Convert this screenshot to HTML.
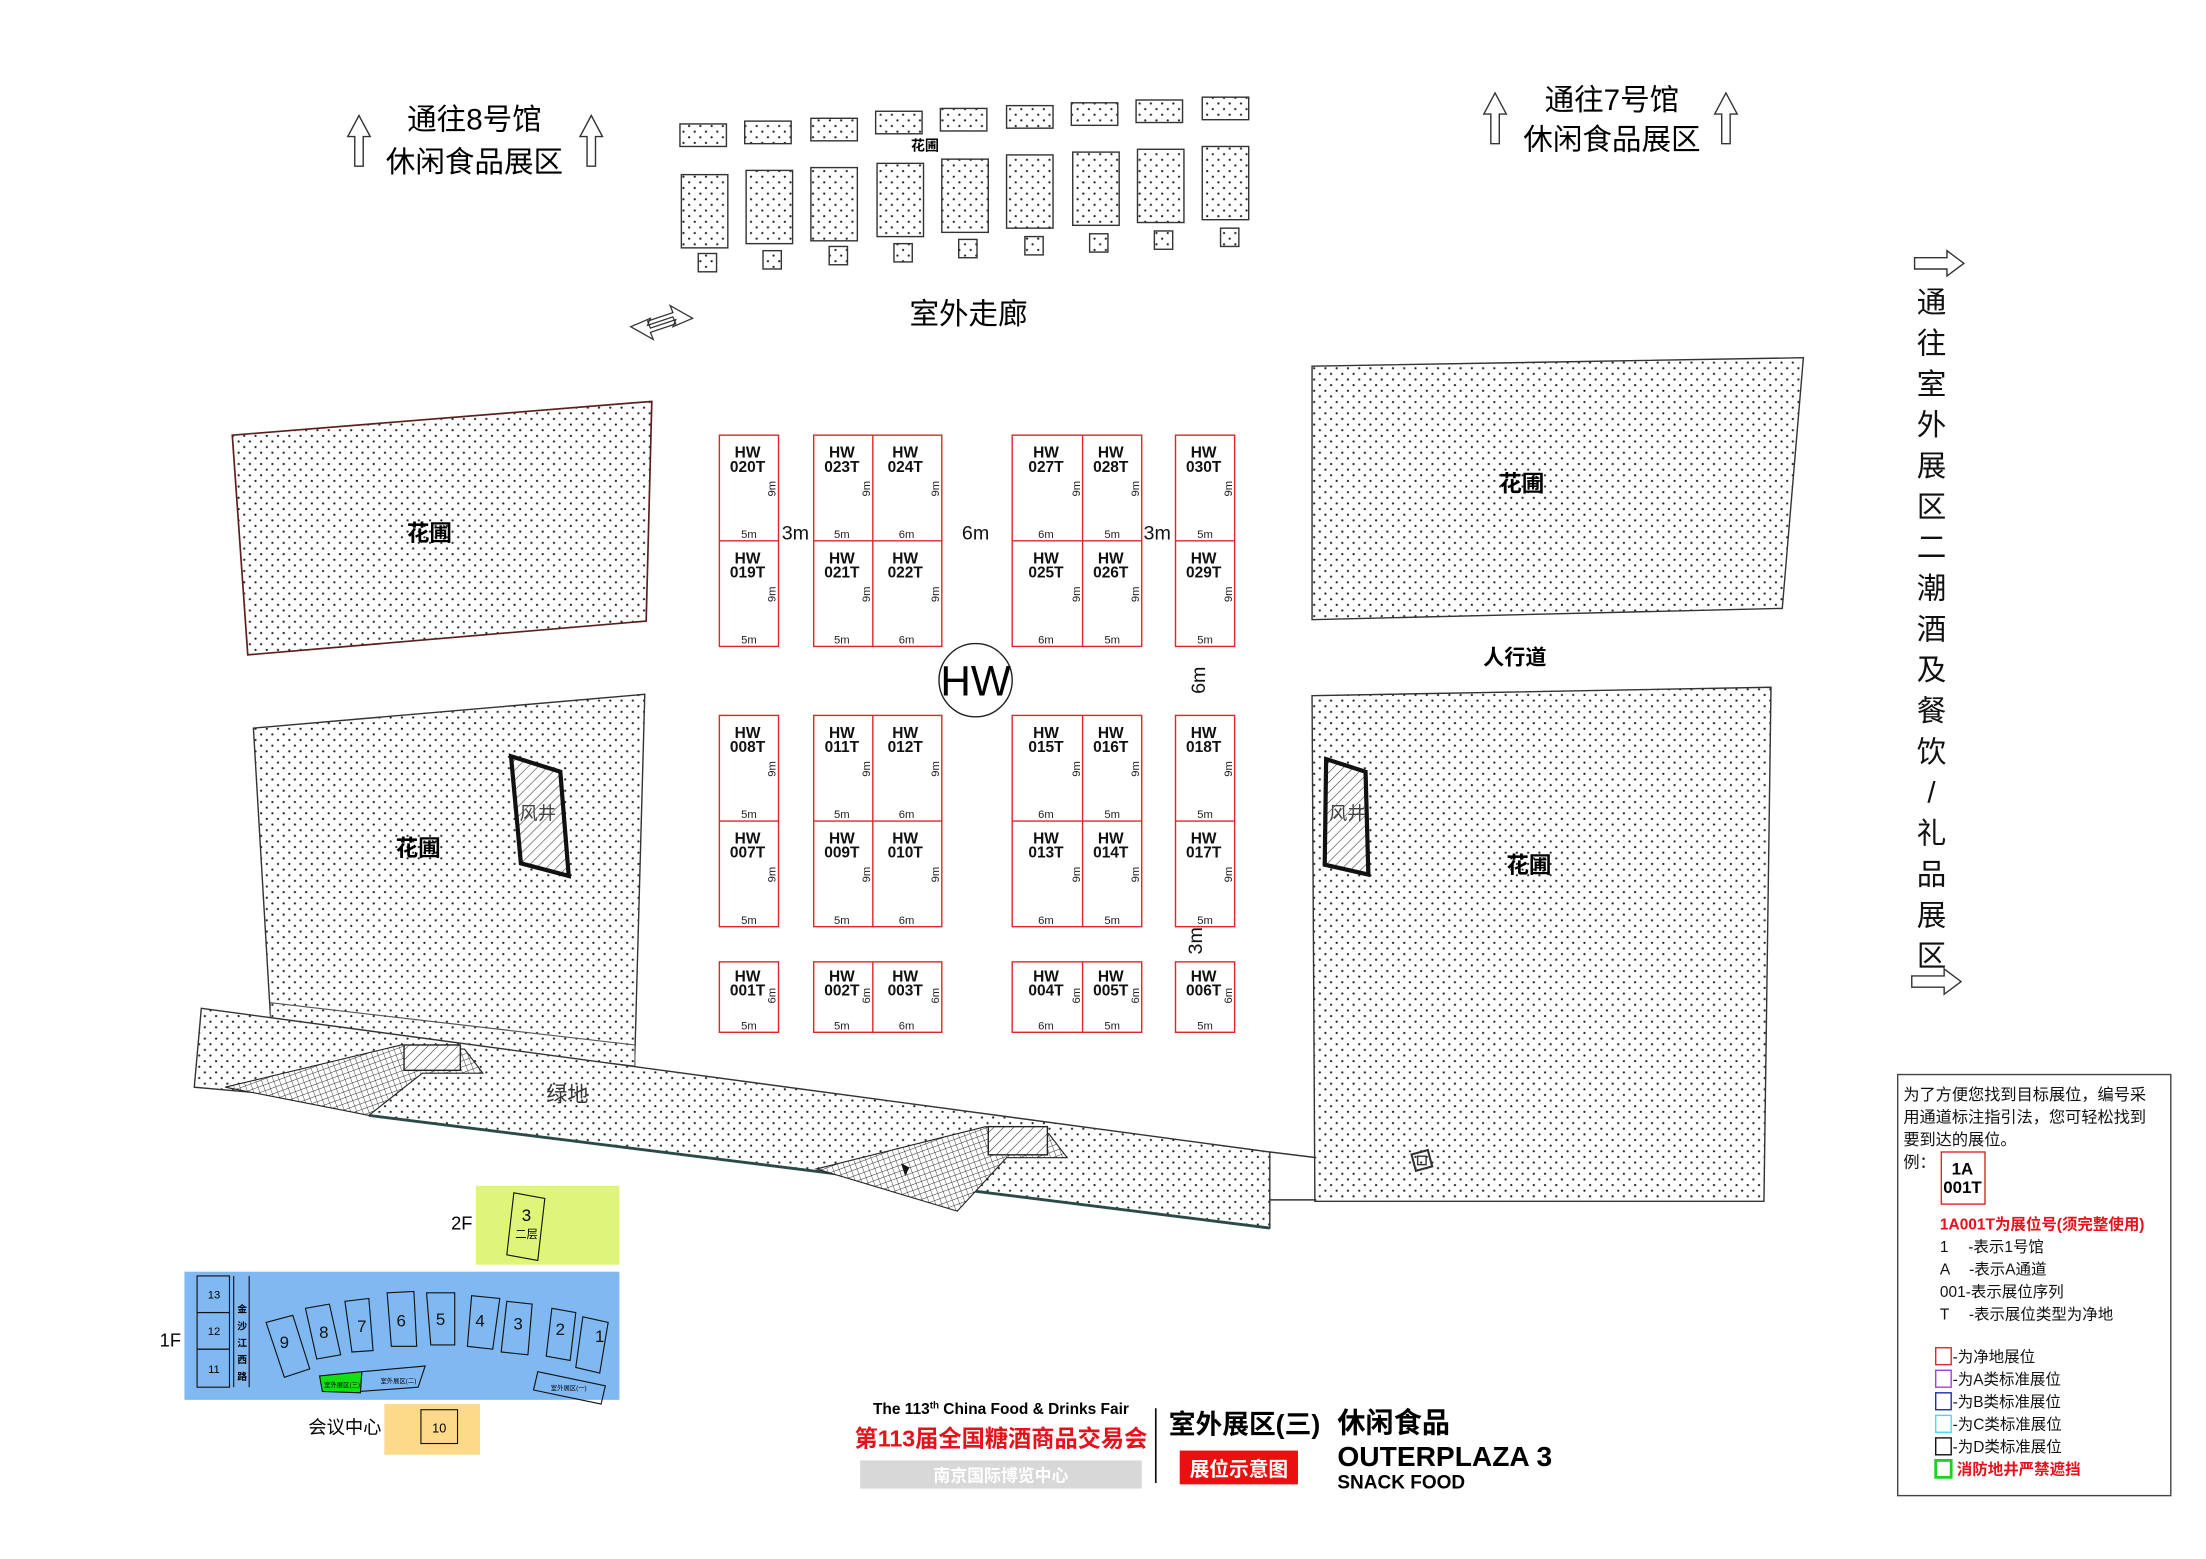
<!DOCTYPE html>
<html><head><meta charset="utf-8"><style>
html,body{margin:0;padding:0;background:#fff;}
svg{display:block;}
text{font-family:"Liberation Sans","Noto Sans CJK SC",sans-serif;}
.b{font-weight:bold;}
</style></head><body>
<svg width="2206" height="1559" viewBox="0 0 1567 1107" preserveAspectRatio="none" xmlns="http://www.w3.org/2000/svg">
<defs>
<pattern id="dots" width="8" height="8" patternUnits="userSpaceOnUse">
<rect width="8" height="8" fill="#fff"/>
<circle cx="1.5" cy="1.5" r="0.8" fill="#222"/>
<circle cx="5.5" cy="5.5" r="0.8" fill="#222"/>
</pattern>
<pattern id="hatch" width="5" height="5" patternUnits="userSpaceOnUse" patternTransform="rotate(45)">
<rect width="5" height="5" fill="#fff"/><line x1="0" y1="0" x2="0" y2="5" stroke="#333" stroke-width="0.8"/>
</pattern>
<pattern id="grid" width="4" height="4" patternUnits="userSpaceOnUse" patternTransform="rotate(-20)">
<rect width="4" height="4" fill="#fff"/><path d="M0 0H4M0 0V4" stroke="#222" stroke-width="0.6"/>
</pattern>
</defs>

<!-- top texts -->
<text x="337" y="92" font-size="21" text-anchor="middle">通往8号馆</text>
<text x="337" y="122" font-size="21" text-anchor="middle">休闲食品展区</text>
<path d="M255 82 L247 97 L252 97 L252 118 L258 118 L258 97 L263 97 Z" fill="none" stroke="#333" stroke-width="1"/>
<path d="M420 82 L412 97 L417 97 L417 118 L423 118 L423 97 L428 97 Z" fill="none" stroke="#333" stroke-width="1"/>
<text x="1145" y="78" font-size="21" text-anchor="middle">通往7号馆</text>
<text x="1145" y="106" font-size="21" text-anchor="middle">休闲食品展区</text>
<path d="M1062 66 L1054 81 L1059 81 L1059 102 L1065 102 L1065 81 L1070 81 Z" fill="none" stroke="#333" stroke-width="1"/>
<path d="M1226 66 L1218 81 L1223 81 L1223 102 L1229 102 L1229 81 L1234 81 Z" fill="none" stroke="#333" stroke-width="1"/>
<text x="688" y="230" font-size="21" text-anchor="middle">室外走廊</text>
<path d="M448 232 L462 226 L460 231 L478 225 L480 230 L462 236 L464 241 Z M492 226 L478 232 L480 227 L462 233 L460 228 L478 222 L476 217 Z" fill="none" stroke="#333" stroke-width="0.9"/>
<text x="657" y="107" font-size="10" class="b" text-anchor="middle">花圃</text>

<!-- flower beds top -->
<g stroke="#333" stroke-width="1" fill="url(#dots)">
<rect x="483" y="88" width="33" height="16"/><rect x="529" y="86" width="33" height="16"/><rect x="576" y="84" width="33" height="16"/><rect x="622" y="79" width="33" height="16"/><rect x="668" y="77" width="33" height="16"/><rect x="715" y="75" width="33" height="16"/><rect x="761" y="73" width="33" height="16"/><rect x="807" y="71" width="33" height="16"/><rect x="854" y="69" width="33" height="16"/>
<rect x="484" y="124" width="33" height="52"/><rect x="530" y="121" width="33" height="52"/><rect x="576" y="119" width="33" height="52"/><rect x="623" y="116" width="33" height="52"/><rect x="669" y="113" width="33" height="52"/><rect x="715" y="110" width="33" height="52"/><rect x="762" y="108" width="33" height="52"/><rect x="808" y="106" width="33" height="52"/><rect x="854" y="104" width="33" height="52"/>
<rect x="496" y="180" width="13" height="13"/><rect x="542" y="178" width="13" height="13"/><rect x="589" y="175" width="13" height="13"/><rect x="635" y="173" width="13" height="13"/><rect x="681" y="170" width="13" height="13"/><rect x="728" y="168" width="13" height="13"/><rect x="774" y="166" width="13" height="13"/><rect x="820" y="164" width="13" height="13"/><rect x="867" y="162" width="13" height="13"/>
</g>

<!-- gardens -->
<polygon points="165,309 463,285 459,441 176,465" fill="url(#dots)" stroke="#5a2020" stroke-width="1.2"/>
<polygon points="180,517 458,493 451,748 192,720" fill="url(#dots)" stroke="#333" stroke-width="1"/>
<polygon points="932,260 1281,254 1266,432 932,440" fill="url(#dots)" stroke="#333" stroke-width="1"/>
<polygon points="932,494 1258,488 1253,853 934,853" fill="url(#dots)" stroke="#333" stroke-width="1"/>
<text x="305" y="384" font-size="16" class="b" text-anchor="middle">花圃</text>
<text x="297" y="608" font-size="16" class="b" text-anchor="middle">花圃</text>
<text x="1081" y="349" font-size="16" class="b" text-anchor="middle">花圃</text>
<text x="1086" y="620" font-size="16" class="b" text-anchor="middle">花圃</text>
<text x="1076" y="472" font-size="15" class="b" text-anchor="middle">人行道</text>
<!-- wind shafts -->
<polygon points="363,537 398,548 404,622 370,613" fill="url(#hatch)" stroke="#111" stroke-width="3"/>
<text x="382" y="582" font-size="13" text-anchor="middle" fill="#444">风井</text>
<polygon points="942,539 970,548 972,621 941,614" fill="url(#hatch)" stroke="#111" stroke-width="3"/>
<text x="957" y="582" font-size="13" text-anchor="middle" fill="#444">风井</text>

<!-- green strip -->
<polygon points="192,712 451,742 451,757 192,727" fill="url(#dots)" stroke="#555" stroke-width="0.8"/>
<polygon points="143,716 902,818 902,872 262,792 252,782 138,772" fill="url(#dots)" stroke="#333" stroke-width="1"/>
<path d="M262,792 L902,872" stroke="#2a4a4a" stroke-width="2" fill="none"/>
<polygon points="160,772 285,742 330,745 343,762 300,762 262,792 252,790" fill="url(#grid)" stroke="#222" stroke-width="0.8"/>
<rect x="287" y="742" width="40" height="18" fill="url(#hatch)" stroke="#222" stroke-width="1"/>
<polygon points="580,830 700,800 745,805 758,822 715,822 680,860" fill="url(#grid)" stroke="#222" stroke-width="0.8"/>
<rect x="702" y="800" width="42" height="20" fill="url(#hatch)" stroke="#222" stroke-width="1"/>
<path d="M640 826 l6 3 -3 6 z" fill="#111"/>
<path d="M902 818 L935 822 M902 852 L935 852" stroke="#333" stroke-width="1"/>
<rect x="1004" y="818" width="12" height="12" fill="none" stroke="#333" stroke-width="1.5" transform="rotate(-15 1010 824)"/>
<rect x="1007" y="821" width="6" height="6" fill="none" stroke="#333" stroke-width="1"/>
<text x="403" y="782" font-size="15" text-anchor="middle" fill="#333">绿地</text>

<!-- booths -->
<g fill="none" stroke="#e0262a" stroke-width="1">
<rect x="511" y="309" width="42" height="150"/><line x1="511" y1="384" x2="553" y2="384"/>
<rect x="578" y="309" width="91" height="150"/><line x1="578" y1="384" x2="669" y2="384"/><line x1="620" y1="309" x2="620" y2="459"/>
<rect x="719" y="309" width="92" height="150"/><line x1="719" y1="384" x2="811" y2="384"/><line x1="769" y1="309" x2="769" y2="459"/>
<rect x="835" y="309" width="42" height="150"/><line x1="835" y1="384" x2="877" y2="384"/>
<rect x="511" y="508" width="42" height="150"/><line x1="511" y1="583" x2="553" y2="583"/>
<rect x="578" y="508" width="91" height="150"/><line x1="578" y1="583" x2="669" y2="583"/><line x1="620" y1="508" x2="620" y2="658"/>
<rect x="719" y="508" width="92" height="150"/><line x1="719" y1="583" x2="811" y2="583"/><line x1="769" y1="508" x2="769" y2="658"/>
<rect x="835" y="508" width="42" height="150"/><line x1="835" y1="583" x2="877" y2="583"/>
<rect x="511" y="683" width="42" height="50"/>
<rect x="578" y="683" width="91" height="50"/><line x1="620" y1="683" x2="620" y2="733"/>
<rect x="719" y="683" width="92" height="50"/><line x1="769" y1="683" x2="769" y2="733"/>
<rect x="835" y="683" width="42" height="50"/>
</g>
<g font-size="11" class="b" text-anchor="middle" font-family="Liberation Sans Narrow,Liberation Sans,sans-serif" fill="#111">
<text x="531" y="325">HW</text><text x="531" y="335">020T</text>
<text x="531" y="400">HW</text><text x="531" y="410">019T</text>
<text x="598" y="325">HW</text><text x="598" y="335">023T</text>
<text x="598" y="400">HW</text><text x="598" y="410">021T</text>
<text x="643" y="325">HW</text><text x="643" y="335">024T</text>
<text x="643" y="400">HW</text><text x="643" y="410">022T</text>
<text x="743" y="325">HW</text><text x="743" y="335">027T</text>
<text x="743" y="400">HW</text><text x="743" y="410">025T</text>
<text x="789" y="325">HW</text><text x="789" y="335">028T</text>
<text x="789" y="400">HW</text><text x="789" y="410">026T</text>
<text x="855" y="325">HW</text><text x="855" y="335">030T</text>
<text x="855" y="400">HW</text><text x="855" y="410">029T</text>
<text x="531" y="524">HW</text><text x="531" y="534">008T</text>
<text x="531" y="599">HW</text><text x="531" y="609">007T</text>
<text x="598" y="524">HW</text><text x="598" y="534">011T</text>
<text x="598" y="599">HW</text><text x="598" y="609">009T</text>
<text x="643" y="524">HW</text><text x="643" y="534">012T</text>
<text x="643" y="599">HW</text><text x="643" y="609">010T</text>
<text x="743" y="524">HW</text><text x="743" y="534">015T</text>
<text x="743" y="599">HW</text><text x="743" y="609">013T</text>
<text x="789" y="524">HW</text><text x="789" y="534">016T</text>
<text x="789" y="599">HW</text><text x="789" y="609">014T</text>
<text x="855" y="524">HW</text><text x="855" y="534">018T</text>
<text x="855" y="599">HW</text><text x="855" y="609">017T</text>
<text x="531" y="697">HW</text><text x="531" y="707">001T</text>
<text x="598" y="697">HW</text><text x="598" y="707">002T</text>
<text x="643" y="697">HW</text><text x="643" y="707">003T</text>
<text x="743" y="697">HW</text><text x="743" y="707">004T</text>
<text x="789" y="697">HW</text><text x="789" y="707">005T</text>
<text x="855" y="697">HW</text><text x="855" y="707">006T</text>
</g>
<g font-size="8" text-anchor="middle" fill="#222">
<text x="532" y="382">5m</text><text x="532" y="457">5m</text><text x="598" y="382">5m</text><text x="598" y="457">5m</text>
<text x="644" y="382">6m</text><text x="644" y="457">6m</text><text x="743" y="382">6m</text><text x="743" y="457">6m</text>
<text x="790" y="382">5m</text><text x="790" y="457">5m</text><text x="856" y="382">5m</text><text x="856" y="457">5m</text>
<text x="532" y="581">5m</text><text x="532" y="656">5m</text><text x="598" y="581">5m</text><text x="598" y="656">5m</text>
<text x="644" y="581">6m</text><text x="644" y="656">6m</text><text x="743" y="581">6m</text><text x="743" y="656">6m</text>
<text x="790" y="581">5m</text><text x="790" y="656">5m</text><text x="856" y="581">5m</text><text x="856" y="656">5m</text>
<text x="532" y="731">5m</text><text x="598" y="731">5m</text><text x="644" y="731">6m</text><text x="743" y="731">6m</text><text x="790" y="731">5m</text><text x="856" y="731">5m</text>
</g>
<g font-size="8" text-anchor="middle" fill="#222">
<text transform="translate(551,347) rotate(-90)">9m</text><text transform="translate(551,422) rotate(-90)">9m</text>
<text transform="translate(618,347) rotate(-90)">9m</text><text transform="translate(618,422) rotate(-90)">9m</text>
<text transform="translate(667,347) rotate(-90)">9m</text><text transform="translate(667,422) rotate(-90)">9m</text>
<text transform="translate(767,347) rotate(-90)">9m</text><text transform="translate(767,422) rotate(-90)">9m</text>
<text transform="translate(809,347) rotate(-90)">9m</text><text transform="translate(809,422) rotate(-90)">9m</text>
<text transform="translate(875,347) rotate(-90)">9m</text><text transform="translate(875,422) rotate(-90)">9m</text>
<text transform="translate(551,546) rotate(-90)">9m</text><text transform="translate(551,621) rotate(-90)">9m</text>
<text transform="translate(618,546) rotate(-90)">9m</text><text transform="translate(618,621) rotate(-90)">9m</text>
<text transform="translate(667,546) rotate(-90)">9m</text><text transform="translate(667,621) rotate(-90)">9m</text>
<text transform="translate(767,546) rotate(-90)">9m</text><text transform="translate(767,621) rotate(-90)">9m</text>
<text transform="translate(809,546) rotate(-90)">9m</text><text transform="translate(809,621) rotate(-90)">9m</text>
<text transform="translate(875,546) rotate(-90)">9m</text><text transform="translate(875,621) rotate(-90)">9m</text>
<text transform="translate(551,707) rotate(-90)">6m</text><text transform="translate(618,707) rotate(-90)">6m</text>
<text transform="translate(667,707) rotate(-90)">6m</text><text transform="translate(767,707) rotate(-90)">6m</text>
<text transform="translate(809,707) rotate(-90)">6m</text><text transform="translate(875,707) rotate(-90)">6m</text>
</g>
<g font-size="14" text-anchor="middle" fill="#111">
<text x="565" y="383">3m</text><text x="693" y="383">6m</text><text x="822" y="383">3m</text>
<text transform="translate(856,483) rotate(-90)">6m</text>
<text transform="translate(854,668) rotate(-90)">3m</text>
</g>
<circle cx="693" cy="483" r="26" fill="#fff" stroke="#222" stroke-width="1"/>
<text x="693" y="494" font-size="30" text-anchor="middle">HW</text>

<!-- right vertical text -->
<g font-size="21" text-anchor="middle" fill="#111">
<text x="1372" y="222">通</text><text x="1372" y="251">往</text><text x="1372" y="280">室</text><text x="1372" y="309">外</text><text x="1372" y="338">展</text><text x="1372" y="367">区</text><text x="1372" y="396">二</text><text x="1372" y="425">潮</text><text x="1372" y="454">酒</text><text x="1372" y="483">及</text><text x="1372" y="512">餐</text><text x="1372" y="541">饮</text><text x="1372" y="570">/</text><text x="1372" y="599">礼</text><text x="1372" y="628">品</text><text x="1372" y="657">展</text><text x="1372" y="686">区</text>
</g>
<path d="M1360 183 L1383 183 L1383 178 L1395 187 L1383 196 L1383 191 L1360 191 Z" fill="none" stroke="#333"/>
<path d="M1358 693 L1381 693 L1381 688 L1393 697 L1381 706 L1381 701 L1358 701 Z" fill="none" stroke="#333"/>

<!-- location map -->
<rect x="338" y="842" width="102" height="56" fill="#dff57a"/>
<polygon points="365,847 387,851 382,895 360,891" fill="none" stroke="#111" stroke-width="0.8"/>
<text x="374" y="867" font-size="12" text-anchor="middle">3</text>
<text x="374" y="879" font-size="8" text-anchor="middle">二层</text>
<text x="328" y="873" font-size="13" text-anchor="middle">2F</text>
<rect x="131" y="903" width="309" height="91" fill="#80b9f2"/>
<text x="121" y="956" font-size="13" text-anchor="middle">1F</text>
<g fill="none" stroke="#111" stroke-width="0.8">
<rect x="140" y="906" width="23" height="26"/><rect x="140" y="932" width="23" height="26"/><rect x="140" y="958" width="23" height="27"/>
<line x1="166" y1="906" x2="166" y2="985"/><line x1="177" y1="906" x2="177" y2="985"/>
<polygon points="189,939 208,934 220,972 202,978"/><polygon points="217,929 234,926 242,962 225,965"/><polygon points="245,924 262,922 265,959 250,960"/><polygon points="275,918 294,917 296,956 278,956"/><polygon points="303,918 323,918 323,955 306,955"/><polygon points="335,920 355,922 350,958 332,956"/><polygon points="360,924 378,926 375,962 356,960"/><polygon points="392,929 409,932 405,966 388,963"/><polygon points="414,935 432,939 426,975 409,971"/>
<polygon points="257,974 302,970 297,985 256,988"/><polygon points="382,974 430,984 427,997 379,987"/>
</g>
<polygon points="227,977 257,974 256,989 229,988" fill="#13e013" stroke="#111" stroke-width="0.8"/>
<g font-size="12" text-anchor="middle" fill="#111">
<text x="202" y="957">9</text><text x="230" y="950">8</text><text x="257" y="946">7</text><text x="285" y="942">6</text><text x="313" y="941">5</text><text x="341" y="942">4</text><text x="368" y="944">3</text><text x="398" y="948">2</text><text x="426" y="953">1</text>
</g>
<g font-size="8" text-anchor="middle"><text x="152" y="922">13</text><text x="152" y="948">12</text><text x="152" y="975">11</text></g>
<g font-size="7" class="b" text-anchor="middle"><text x="172" y="932">金</text><text x="172" y="944">沙</text><text x="172" y="956">江</text><text x="172" y="968">西</text><text x="172" y="980">路</text></g>
<g font-size="4.5" text-anchor="middle"><text x="243" y="985">室外展区(三)</text><text x="283" y="982">室外展区(二)</text><text x="404" y="987">室外展区(一)</text></g>
<rect x="273" y="997" width="68" height="36" fill="#fdd98a"/>
<rect x="299" y="1001" width="26" height="24" fill="none" stroke="#111" stroke-width="0.8"/>
<text x="312" y="1017" font-size="9" text-anchor="middle">10</text>
<text x="245" y="1018" font-size="13" text-anchor="middle">会议中心</text>

<!-- title -->
<text x="711" y="1004" font-size="11" class="b" text-anchor="middle">The 113<tspan font-size="7" dy="-4">th</tspan><tspan dy="4"> China Food &amp; Drinks Fair</tspan></text>
<text x="711" y="1027" font-size="16.5" class="b" text-anchor="middle" fill="#e8101a">第113届全国糖酒商品交易会</text>
<rect x="611" y="1037" width="200" height="20" fill="#d8d8d8"/>
<text x="711" y="1052" font-size="12" class="b" text-anchor="middle" fill="#fff">南京国际博览中心</text>
<line x1="821" y1="1000" x2="821" y2="1053" stroke="#111" stroke-width="1.2"/>
<text x="884" y="1018" font-size="19" class="b" text-anchor="middle">室外展区(三)</text>
<rect x="838" y="1030" width="84" height="24" fill="#ea1010"/>
<text x="880" y="1048" font-size="14" class="b" text-anchor="middle" fill="#fff">展位示意图</text>
<text x="950" y="1017" font-size="20" class="b">休闲食品</text>
<text x="950" y="1041" font-size="20" class="b">OUTERPLAZA 3</text>
<text x="950" y="1057" font-size="13.5" class="b">SNACK FOOD</text>

<!-- legend -->
<rect x="1348" y="763" width="194" height="299" fill="#fff" stroke="#444" stroke-width="1"/>
<g font-size="11.5" fill="#111">
<text x="1352" y="781">为了方便您找到目标展位，编号采</text>
<text x="1352" y="797">用通道标注指引法，您可轻松找到</text>
<text x="1352" y="813">要到达的展位。</text>
<text x="1352" y="829">例：</text>
</g>
<rect x="1379" y="818" width="31" height="37" fill="none" stroke="#e0262a" stroke-width="1"/>
<text x="1394" y="834" font-size="12" class="b" text-anchor="middle">1A</text>
<text x="1394" y="847" font-size="12" class="b" text-anchor="middle">001T</text>
<text x="1378" y="873" font-size="11" class="b" fill="#e8101a">1A001T为展位号(须完整使用)</text>
<g font-size="11" fill="#111">
<text x="1378" y="889">1 　-表示1号馆</text>
<text x="1378" y="905">A 　-表示A通道</text>
<text x="1378" y="921">001-表示展位序列</text>
<text x="1378" y="937">T 　-表示展位类型为净地</text>
<text x="1387" y="967">-为净地展位</text>
<text x="1387" y="983">-为A类标准展位</text>
<text x="1387" y="999">-为B类标准展位</text>
<text x="1387" y="1015">-为C类标准展位</text>
<text x="1387" y="1031">-为D类标准展位</text>
</g>
<text x="1390" y="1047" font-size="11" class="b" fill="#e8101a">消防地井严禁遮挡</text>
<g fill="none" stroke-width="1">
<rect x="1375" y="957" width="11" height="12" stroke="#e0262a"/>
<rect x="1375" y="973" width="11" height="12" stroke="#a040e0"/>
<rect x="1375" y="989" width="11" height="12" stroke="#2030b0"/>
<rect x="1375" y="1005" width="11" height="12" stroke="#40e0e8"/>
<rect x="1375" y="1021" width="11" height="12" stroke="#111"/>
<rect x="1375" y="1037" width="11" height="12" stroke="#20d020" stroke-width="2"/>
</g>
</svg>
</body></html>
